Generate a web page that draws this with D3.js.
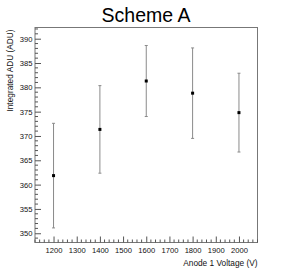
<!DOCTYPE html>
<html>
<head>
<meta charset="utf-8">
<script src="https://cdn.jsdelivr.net/npm/d3@7"></script>
<style>
  body { margin: 0; background: #fff; }
  svg { display: block; font-family: "Liberation Sans", Arial, sans-serif; }
</style>
</head>
<body>
<div id="chart"></div>
<script>
// values
const voltages = [1200, 1400, 1600, 1800, 2000];
const adu = [361.85, 371.35, 381.3, 378.8, 374.8];
const aduErr = [10.75, 9.0, 7.3, 9.3, 8.1];
const xTicks = [1200, 1300, 1400, 1500, 1600, 1700, 1800, 1900, 2000];
const yTicks = [350, 355, 360, 365, 370, 375, 380, 385, 390];

const width = 293, height = 279;
const frame = { left: 35, right: 257.5, top: 27.5, bottom: 242.5 };

const svg = d3.select('#chart').append('svg')
  .attr('width', width)
  .attr('height', height);

const x = d3.scaleLinear().domain([1120, 2080]).range([frame.left, frame.right]);
const y = d3.scaleLinear().domain([348.1, 392.3]).range([frame.bottom, frame.top]);

// frame
svg.append('rect')
  .attr('x', frame.left).attr('y', frame.top)
  .attr('width', frame.right - frame.left)
  .attr('height', frame.bottom - frame.top)
  .attr('fill', 'none')
  .attr('stroke', '#777')
  .attr('stroke-width', 1);

// minor ticks (ROOT style, inside the frame)
let minorX = d3.range(1120, 2081, 20).filter(v => v % 100 !== 0);
let minorY = d3.range(349, 393, 1).filter(v => v % 5 !== 0);

svg.append('g').selectAll('line')
  .data(minorX).enter().append('line')
  .attr('x1', d => x(d)).attr('x2', d => x(d))
  .attr('y1', frame.bottom).attr('y2', frame.bottom - 3)
  .attr('stroke', '#555');

svg.append('g').selectAll('line')
  .data(minorY).enter().append('line')
  .attr('x1', frame.left).attr('x2', frame.left + 3)
  .attr('y1', d => y(d)).attr('y2', d => y(d))
  .attr('stroke', '#555');

// major axes
let fmt = d3.format('d');
let xAxis = d3.axisBottom(x).tickValues(xTicks).tickFormat(fmt)
  .tickSizeInner(-6).tickSizeOuter(0).tickPadding(5);
let yAxis = d3.axisLeft(y).tickValues(yTicks).tickFormat(fmt)
  .tickSizeInner(-6).tickSizeOuter(0).tickPadding(3);

let gx = svg.append('g')
  .attr('transform', `translate(0,${frame.bottom})`)
  .call(xAxis);
let gy = svg.append('g')
  .attr('transform', `translate(${frame.left},0)`)
  .call(yAxis);

[gx, gy].forEach(g => {
  g.select('.domain').remove();
  g.selectAll('.tick line').attr('stroke', '#555');
  g.selectAll('.tick text')
    .attr('fill', '#111')
    .style('font-size', '7.6px')
    .style('font-family', '"Liberation Sans", Arial, sans-serif');
});
gy.selectAll('.tick text').attr('x', -2.5);

// error bars
let pts = voltages.map((v, i) => ({ v: v, a: adu[i], e: aduErr[i] }));

let bars = svg.append('g').attr('class', 'errors');
bars.selectAll('line.bar')
  .data(pts).enter().append('line')
  .attr('class', 'bar')
  .attr('x1', d => x(d.v)).attr('x2', d => x(d.v))
  .attr('y1', d => y(d.a - d.e)).attr('y2', d => y(d.a + d.e))
  .attr('stroke', '#8a8a8a')
  .attr('stroke-width', 1);

bars.selectAll('line.capTop')
  .data(pts).enter().append('line')
  .attr('class', 'capTop')
  .attr('x1', d => x(d.v) - 1.5).attr('x2', d => x(d.v) + 1.5)
  .attr('y1', d => y(d.a + d.e)).attr('y2', d => y(d.a + d.e))
  .attr('stroke', '#8a8a8a');

bars.selectAll('line.capBot')
  .data(pts).enter().append('line')
  .attr('class', 'capBot')
  .attr('x1', d => x(d.v) - 1.5).attr('x2', d => x(d.v) + 1.5)
  .attr('y1', d => y(d.a - d.e)).attr('y2', d => y(d.a - d.e))
  .attr('stroke', '#8a8a8a');

// points
svg.append('g').selectAll('rect')
  .data(pts).enter().append('rect')
  .attr('x', d => x(d.v) - 1.5)
  .attr('y', d => y(d.a) - 1.5)
  .attr('width', 3).attr('height', 3)
  .attr('fill', '#000');

// title and axis labels
svg.append('text')
  .attr('x', 146)
  .attr('y', 22)
  .attr('text-anchor', 'middle')
  .style('font-size', '19.5px')
  .attr('fill', '#000')
  .text('Scheme A');

svg.append('text')
  .attr('x', frame.right)
  .attr('y', 266)
  .attr('text-anchor', 'end')
  .style('font-size', '8.3px')
  .attr('fill', '#111')
  .text('Anode 1 Voltage (V)');

svg.append('text')
  .attr('transform', `translate(12.5,${frame.top + 2}) rotate(-90)`)
  .attr('text-anchor', 'end')
  .style('font-size', '8.3px')
  .attr('fill', '#111')
  .text('Integrated ADU (ADU)');
</script>
</body>
</html>
